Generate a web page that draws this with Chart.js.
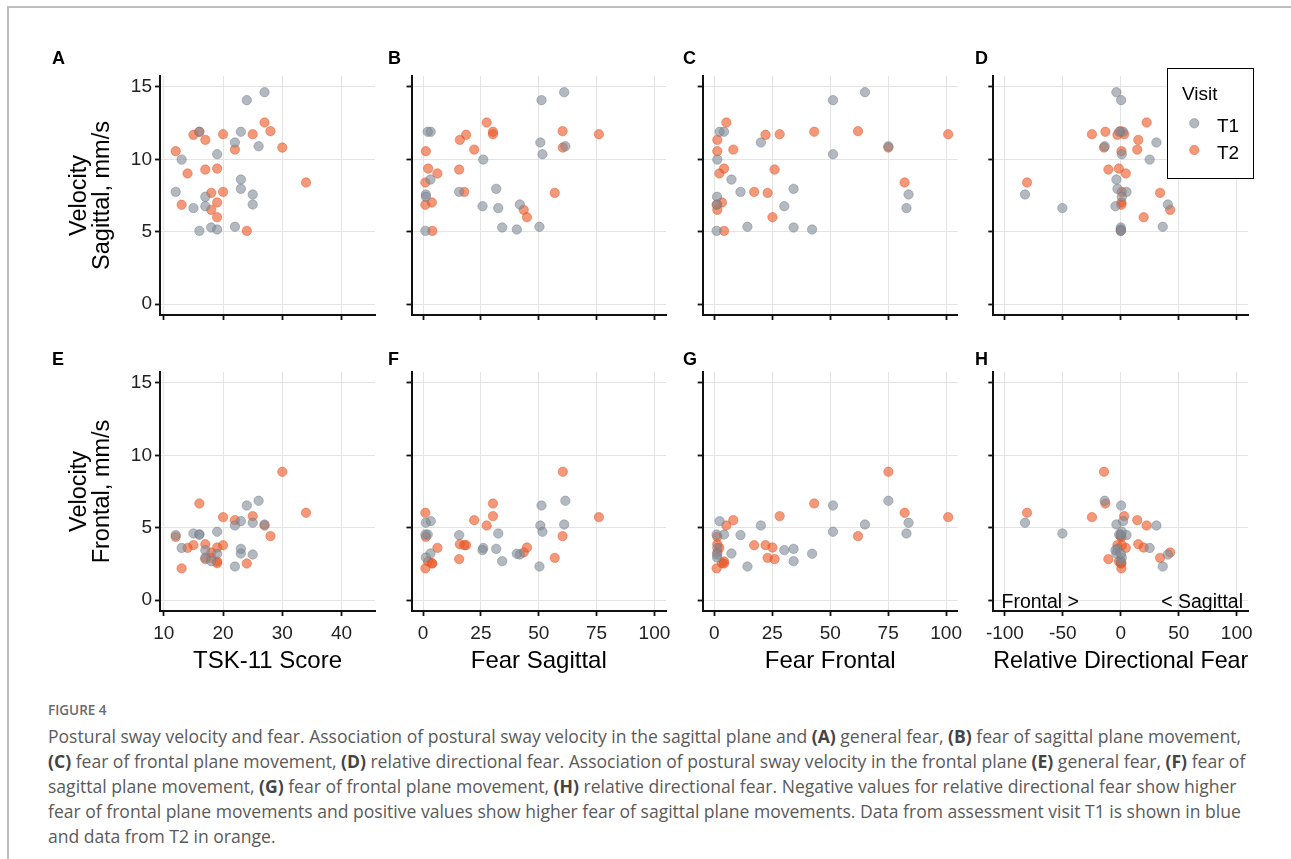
<!DOCTYPE html>
<html>
<head>
<meta charset="utf-8">
<script src="https://cdn.jsdelivr.net/npm/chart.js@4.4.1/dist/chart.umd.min.js"></script>
<style>
  body { margin: 0; background: #fff; width: 1291px; height: 859px; overflow: hidden; position: relative; }
  #frame { position: absolute; left: 7px; top: 6px; right: 0; bottom: 0; border-top: 2px solid #bdbdbd; border-left: 2px solid #bdbdbd; }
  #plots { position: absolute; left: 0; top: 0; width: 1291px; height: 690px; }
  #plots canvas { position: absolute; left: 0; top: 0; }
  #caption { position: absolute; left: 48px; top: 701px; font-family: 'Open Sans', sans-serif; color: #5a5a5a; }
  #caption .fig { font-size: 13.5px; line-height: 19px; font-weight: 600; color: #6a6a6a; }
  #caption .cap { margin-top: 4px; font-size: 15px; line-height: 25px; }
  #caption .ln { white-space: nowrap; }
  #caption .ln span { display: inline-block; }
  #caption b { color: #444; font-weight: 700; }
</style>
</head>
<body>
<div id="frame"></div>
<div id="plots"></div>
<div id="caption">
  <div class="fig">FIGURE 4</div>
  <div class="cap">
    <div class="ln"><span id="firstLine">Postural sway velocity and fear. Association of postural sway velocity in the sagittal plane and <b>(A)</b> general fear, <b>(B)</b> fear of sagittal plane movement,</span></div>
    <div class="ln"><b>(C)</b> fear of frontal plane movement, <b>(D)</b> relative directional fear. Association of postural sway velocity in the frontal plane <b>(E)</b> general fear, <b>(F)</b> fear of</div>
    <div class="ln">sagittal plane movement, <b>(G)</b> fear of frontal plane movement, <b>(H)</b> relative directional fear. Negative values for relative directional fear show higher</div>
    <div class="ln">fear of frontal plane movements and positive values show higher fear of sagittal plane movements. Data from assessment visit T1 is shown in blue</div>
    <div class="ln">and data from T2 in orange.</div>
  </div>
</div>
<script>
// visit T1, one entry per subject
const t1Tsk       = [27, 24, 23, 16, 22, 26, 19, 13, 23, 23, 12, 25, 17, 25, 17, 15, 22, 18, 19, 16];
const t1FearSag   = [61, 51.2, 3.3, 2.0, 50.7, 61.5, 51.6, 26, 3.2, 31.6, 15.6, 1.2, 1.2, 41.8, 25.7, 32.5, 50.3, 34.2, 40.5, 1.0];
const t1FearFront = [65, 51.2, 2.3, 4.2, 20.1, 75.1, 51.2, 1.3, 7.4, 34.2, 11.3, 83.8, 1.2, 1.2, 30.2, 82.9, 14.3, 34.2, 42.2, 1.0];
const t1RelFear   = [-3.8, 0.3, 2.0, -1.4, 30.7, -13.9, 0.9, 24.9, -3.8, -2.9, 4.9, -82.6, 0.9, 40.6, -4.6, -50.4, 36.2, 0, 0, 0];
const t1VelSag    = [14.63, 14.08, 11.9, 11.9, 11.16, 10.9, 10.35, 9.98, 8.6, 7.96, 7.75, 7.57, 7.41, 6.88, 6.76, 6.63, 5.34, 5.29, 5.15, 5.06];
const t1VelFront  = [5.22, 6.53, 5.45, 4.53, 5.15, 6.86, 4.72, 3.6, 3.22, 3.54, 4.49, 5.34, 2.94, 3.15, 3.45, 4.60, 2.32, 2.69, 3.2, 4.53];

// visit T2
const t2Tsk       = [27, 28, 16, 20, 25, 15, 17, 30, 22, 12, 19, 17, 14, 34, 20, 18, 19, 13, 18, 19, 24];
const t2FearSag   = [27.5, 60.3, 30.2, 76.0, 30.2, 18.6, 15.9, 60.4, 22.1, 1.2, 2.2, 15.6, 6.2, 1.0, 17.8, 56.9, 3.8, 1.0, 43.5, 44.9, 4.0];
const t2FearFront = [5.2, 62.0, 43.1, 100.9, 28.2, 22.1, 1.3, 75.1, 8.2, 1.3, 4.2, 26.0, 2.2, 82.1, 17.2, 23.0, 3.3, 1.0, 1.3, 25.1, 4.2];
const t2RelFear   = [22.3, -0.3, -13.3, -24.9, 2.9, -2.9, 15.1, -14.5, 14.2, 0.6, -1.7, -10.7, 4.3, -80.9, 0.9, 33.9, 0.6, 0.5, 42.6, 19.7, 0];
const t2VelSag    = [12.54, 11.94, 11.9, 11.73, 11.73, 11.69, 11.34, 10.81, 10.67, 10.56, 9.36, 9.29, 9.02, 8.40, 7.75, 7.68, 7.02, 6.86, 6.51, 6.00, 5.06];
const t2VelFront  = [5.15, 4.42, 6.67, 5.73, 5.80, 3.80, 3.86, 8.86, 5.52, 4.37, 2.67, 2.83, 3.61, 6.03, 3.79, 2.92, 2.55, 2.19, 3.29, 3.63, 2.53];

// tick labels
const velTicks  = [0, 5, 10, 15];
const tskTicks  = [10, 20, 30, 40];
const fearTicks = [0, 25, 50, 75, 100];
const relTicks  = [-100, -50, 0, 50, 100];
const visits = ['T1', 'T2'];

const grayFill = 'rgba(128,138,150,0.6)', grayEdge = 'rgba(105,115,128,0.7)';
const orangeFill = 'rgba(236,88,38,0.62)', orangeEdge = 'rgba(220,78,28,0.7)';

Chart.defaults.font.family = '"Liberation Sans", Arial, sans-serif';

const W = 1291, H = 690;
const cols = [{l: 160, r: 375}, {l: 411.5, r: 666}, {l: 702.7, r: 957.7}, {l: 993.3, r: 1248.3}];
const rows = [{t: 76, b: 315}, {t: 372, b: 611}];
const tagX = [52, 388, 683, 975];
const tagY = [63.5, 365];

const panels = [
  {tag: 'A', col: 0, row: 0, x1: t1Tsk, x2: t2Tsk, y1: t1VelSag, y2: t2VelSag, min: 9.35, max: 45.65, ticks: tskTicks, title: 'TSK-11 Score'},
  {tag: 'B', col: 1, row: 0, x1: t1FearSag, x2: t2FearSag, y1: t1VelSag, y2: t2VelSag, min: -5, max: 105, ticks: fearTicks, title: 'Fear Sagittal'},
  {tag: 'C', col: 2, row: 0, x1: t1FearFront, x2: t2FearFront, y1: t1VelSag, y2: t2VelSag, min: -5, max: 105, ticks: fearTicks, title: 'Fear Frontal'},
  {tag: 'D', col: 3, row: 0, x1: t1RelFear, x2: t2RelFear, y1: t1VelSag, y2: t2VelSag, min: -110, max: 110, ticks: relTicks, title: 'Relative Directional Fear', legend: true},
  {tag: 'E', col: 0, row: 1, x1: t1Tsk, x2: t2Tsk, y1: t1VelFront, y2: t2VelFront, min: 9.35, max: 45.65, ticks: tskTicks, title: 'TSK-11 Score'},
  {tag: 'F', col: 1, row: 1, x1: t1FearSag, x2: t2FearSag, y1: t1VelFront, y2: t2VelFront, min: -5, max: 105, ticks: fearTicks, title: 'Fear Sagittal'},
  {tag: 'G', col: 2, row: 1, x1: t1FearFront, x2: t2FearFront, y1: t1VelFront, y2: t2VelFront, min: -5, max: 105, ticks: fearTicks, title: 'Fear Frontal'},
  {tag: 'H', col: 3, row: 1, x1: t1RelFear, x2: t2RelFear, y1: t1VelFront, y2: t2VelFront, min: -110, max: 110, ticks: relTicks, title: 'Relative Directional Fear', notes: true}
];

// letters, legend and the Frontal/Sagittal notes
const panelText = {
  id: 'panelText',
  afterDraw(chart, args, o) {
    const ctx = chart.ctx;
    ctx.save();
    ctx.fillStyle = '#000';
    ctx.textBaseline = 'alphabetic';
    ctx.font = 'bold 18px "Liberation Sans", Arial, sans-serif';
    ctx.fillText(o.tag, o.x, o.y);
    if (o.legend) {
      ctx.fillStyle = '#fff';
      ctx.fillRect(1167.5, 68.5, 86, 110);
      ctx.strokeStyle = '#000';
      ctx.lineWidth = 1;
      ctx.strokeRect(1167.5, 68.5, 86, 110);
      ctx.fillStyle = '#000';
      ctx.font = '19px "Liberation Sans", Arial, sans-serif';
      ctx.fillText('Visit', 1182, 100);
      [[grayFill, grayEdge, 123.3, 132], [orangeFill, orangeEdge, 150, 159]].forEach((s, i) => {
        ctx.beginPath();
        ctx.arc(1194.3, s[2], 4.7, 0, Math.PI * 2);
        ctx.fillStyle = s[0];
        ctx.fill();
        ctx.strokeStyle = s[1];
        ctx.lineWidth = 0.6;
        ctx.stroke();
        ctx.fillStyle = '#000';
        ctx.fillText(visits[i], 1217, s[3]);
      });
    }
    if (o.notes) {
      ctx.font = '19.5px "Liberation Sans", Arial, sans-serif';
      ctx.textAlign = 'left';
      ctx.fillText('Frontal >', 1001.5, 607.5);
      ctx.textAlign = 'right';
      ctx.fillText('< Sagittal', 1243, 607.5);
    }
    ctx.restore();
  }
};

const holder = document.getElementById('plots');
panels.forEach(p => {
  const c = cols[p.col], r = rows[p.row];
  const yw = p.col === 0 ? 92 : 10;
  const xh = p.row === 1 ? 63.2 : 10;
  const cv = document.createElement('canvas');
  cv.width = W; cv.height = H;
  holder.appendChild(cv);

  const grid = {color: '#e4e4e4', lineWidth: 1, tickColor: '#111', tickWidth: 1.8, tickLength: 5};
  const border = {display: true, color: '#111', width: 2};

  new Chart(cv, {
    type: 'scatter',
    data: {
      datasets: [
        {label: 'T1', data: p.x1.map((v, i) => ({x: v, y: p.y1[i]})),
         backgroundColor: grayFill, borderColor: grayEdge, pointRadius: 4.7, pointBorderWidth: 0.6},
        {label: 'T2', data: p.x2.map((v, i) => ({x: v, y: p.y2[i]})),
         backgroundColor: orangeFill, borderColor: orangeEdge, pointRadius: 4.7, pointBorderWidth: 0.6}
      ]
    },
    options: {
      responsive: false,
      animation: false,
      events: [],
      layout: {padding: {left: c.l - yw, top: r.t, right: W - c.r, bottom: H - r.b - xh}},
      plugins: {
        legend: {display: false},
        tooltip: {enabled: false},
        panelText: {tag: p.tag, x: tagX[p.col], y: tagY[p.row], legend: !!p.legend, notes: !!p.notes}
      },
      scales: {
        x: {
          type: 'linear', min: p.min, max: p.max,
          afterBuildTicks: s => { s.ticks = p.ticks.map(v => ({value: v})); },
          afterFit: s => { s.height = xh; s.paddingLeft = 0; s.paddingRight = 0; },
          grid: grid, border: border,
          ticks: {display: p.row === 1, color: '#222', font: {size: 19}, padding: 6, maxRotation: 0, autoSkip: false},
          title: {display: p.row === 1, text: p.title, color: '#000', font: {size: 24, lineHeight: 1.1}, padding: 0}
        },
        y: {
          type: 'linear', min: -0.75, max: 15.75,
          afterBuildTicks: s => { s.ticks = velTicks.map(v => ({value: v})); },
          afterFit: s => { s.width = yw; s.paddingTop = 0; s.paddingBottom = 0; },
          grid: grid, border: border,
          ticks: {display: p.col === 0, color: '#222', font: {size: 19}, padding: 3},
          title: {display: p.col === 0, text: ['Velocity', p.row === 0 ? 'Sagittal, mm/s' : 'Frontal, mm/s'],
                  color: '#000', font: {size: 23.5, lineHeight: 0.98}, padding: 0}
        }
      }
    },
    plugins: [panelText]
  });
});

// stretch the caption so its first line ends where the figure text does
const first = document.getElementById('firstLine');
const w = first.getBoundingClientRect().width;
document.querySelector('#caption .cap').style.fontSize = (15 * 1194 / w).toFixed(2) + 'px';
</script>
</body>
</html>
